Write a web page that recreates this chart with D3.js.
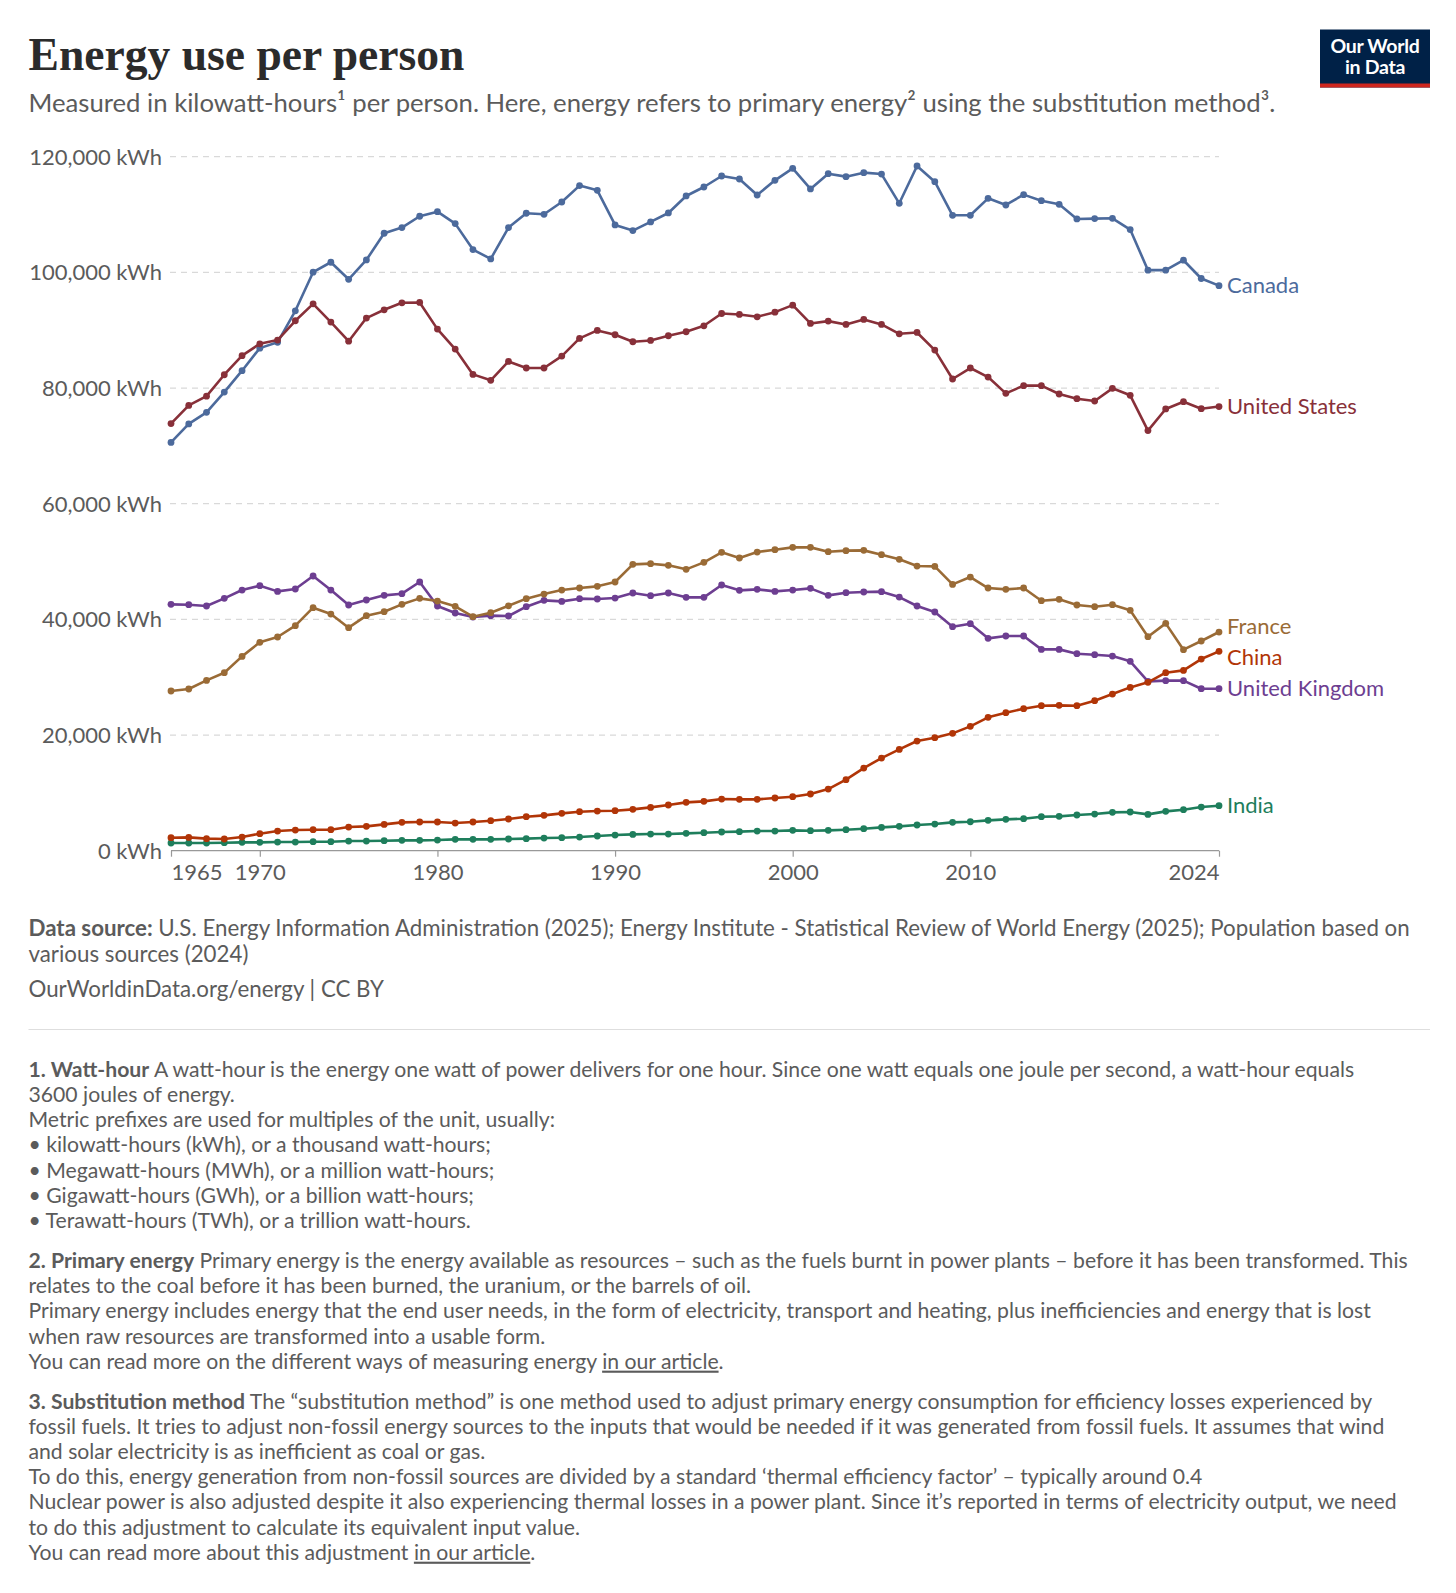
<!DOCTYPE html>
<html>
<head>
<meta charset="utf-8">
<script src="https://cdn.jsdelivr.net/npm/d3@7"></script>
<style>
  html, body { margin: 0; padding: 0; background: #fff; }
  svg { display: block; }
  text { font-family: Lato, "Noto Sans", sans-serif; }
</style>
</head>
<body>
<svg id="chart" width="1456" height="1593"></svg>
<script>
// ---------------- DATA ----------------
const years = [1965,1966,1967,1968,1969,1970,1971,1972,1973,1974,
  1975,1976,1977,1978,1979,1980,1981,1982,1983,1984,
  1985,1986,1987,1988,1989,1990,1991,1992,1993,1994,
  1995,1996,1997,1998,1999,2000,2001,2002,2003,2004,
  2005,2006,2007,2008,2009,2010,2011,2012,2013,2014,
  2015,2016,2017,2018,2019,2020,2021,2022,2023,2024];

const canada = [70600,73800,75800,79300,83000,86900,87900,93350,100030,101750,
  98800,102150,106760,107740,109700,110500,108430,103940,102330,107740,
  110220,110040,112170,115000,114190,108200,107220,108720,110270,113210,
  114760,116660,116140,113380,115910,117990,114420,117060,116550,117240,
  117000,111940,118390,115680,109870,109870,112800,111650,113440,112400,
  111770,109240,109300,109350,107400,100380,100380,102100,98940,97700];

const unitedStates = [73850,77000,78600,82300,85600,87650,88300,91630,94560,91400,
  88100,92100,93530,94740,94800,90190,86740,82360,81330,84600,
  83460,83460,85530,88580,89960,89210,88000,88230,89040,89730,
  90760,92890,92720,92320,93120,94330,91170,91570,91000,91860,
  91000,89380,89610,86560,81560,83460,81900,79080,80410,80410,
  78970,78160,77760,79950,78740,72640,76380,77640,76430,76800];

const france = [27610,27960,29450,30780,33600,36030,36950,38910,42020,40920,
  38560,40640,41330,42600,43630,43170,42250,40460,41150,42340,
  43580,44380,45070,45420,45710,46460,49510,49630,49340,48650,
  49860,51590,50610,51640,52050,52450,52450,51700,51880,51930,
  51180,50380,49220,49160,46050,47320,45420,45190,45420,43230,
  43460,42480,42190,42540,41560,37000,39310,34760,36260,37810];

const unitedKingdom = [42600,42540,42310,43630,45070,45820,44840,45250,47500,45070,
  42480,43350,44150,44440,46460,42310,41100,40400,40640,40580,
  42190,43290,43110,43580,43520,43690,44560,44090,44560,43810,
  43810,45940,45020,45190,44840,45070,45360,44150,44610,44730,
  44790,43860,42310,41270,38730,39250,36720,37120,37120,34810,
  34810,34060,33890,33660,32740,29280,29400,29400,28010,28010];

const china = [2250,2300,2080,2020,2360,2940,3400,3570,3630,3630,
  4090,4210,4550,4900,4960,4960,4780,4960,5190,5480,
  5880,6110,6460,6740,6860,6920,7150,7490,7900,8360,
  8530,8930,8880,8880,9110,9340,9800,10660,12280,14290,
  16020,17520,18960,19540,20290,21500,23060,23860,24550,25070,
  25130,25070,25940,27090,28240,29110,30780,31180,33140,34470];

const india = [1330,1330,1330,1380,1440,1440,1500,1500,1560,1560,
  1670,1670,1730,1790,1790,1840,1960,1960,1960,2020,
  2080,2190,2250,2360,2540,2710,2820,2880,2880,3000,
  3110,3230,3290,3400,3400,3520,3460,3520,3630,3800,
  4030,4210,4440,4610,4900,5010,5250,5420,5530,5880,
  5940,6170,6340,6630,6690,6280,6800,7090,7550,7780];

const seriesNames = ["Canada","United Kingdom","India","China","France","United States"];
const seriesValues = [canada, unitedKingdom, india, china, france, unitedStates];
const seriesColors = ["#4C6A9C","#6D3E91","#1E7E5C","#B13507","#9A6B36","#883039"];

const yTicks = [0,20000,40000,60000,80000,100000,120000];
const xTicks = [1965,1970,1980,1990,2000,2010,2024];

const titleText = "Energy use per person";
const subtitleText = "Measured in kilowatt-hours\u00B9 per person. Here, energy refers to primary energy\u00B2 using the substitution method\u00B3.";
const sourceLines = [
  [["Data source: ","b"],["U.S. Energy Information Administration (2025); Energy Institute - Statistical Review of World Energy (2025); Population based on",""]],
  [["various sources (2024)",""]],
  [["OurWorldinData.org/energy | CC BY",""]]
];
const noteParagraphs = [
  [
    [["1. Watt-hour","b"],[" A watt-hour is the energy one watt of power delivers for one hour. Since one watt equals one joule per second, a watt-hour equals",""]],
    [["3600 joules of energy.",""]],
    [["Metric prefixes are used for multiples of the unit, usually:",""]],
    [["\u2022 kilowatt-hours (kWh), or a thousand watt-hours;",""]],
    [["\u2022 Megawatt-hours (MWh), or a million watt-hours;",""]],
    [["\u2022 Gigawatt-hours (GWh), or a billion watt-hours;",""]],
    [["\u2022 Terawatt-hours (TWh), or a trillion watt-hours.",""]]
  ],
  [
    [["2. Primary energy","b"],[" Primary energy is the energy available as resources \u2013 such as the fuels burnt in power plants \u2013 before it has been transformed. This",""]],
    [["relates to the coal before it has been burned, the uranium, or the barrels of oil.",""]],
    [["Primary energy includes energy that the end user needs, in the form of electricity, transport and heating, plus inefficiencies and energy that is lost",""]],
    [["when raw resources are transformed into a usable form.",""]],
    [["You can read more on the different ways of measuring energy ",""],["in our article","u"],[".",""]]
  ],
  [
    [["3. Substitution method","b"],[" The \u201Csubstitution method\u201D is one method used to adjust primary energy consumption for efficiency losses experienced by",""]],
    [["fossil fuels. It tries to adjust non-fossil energy sources to the inputs that would be needed if it was generated from fossil fuels. It assumes that wind",""]],
    [["and solar electricity is as inefficient as coal or gas.",""]],
    [["To do this, energy generation from non-fossil sources are divided by a standard \u2018thermal efficiency factor\u2019 \u2013 typically around 0.4",""]],
    [["Nuclear power is also adjusted despite it also experiencing thermal losses in a power plant. Since it\u2019s reported in terms of electricity output, we need",""]],
    [["to do this adjustment to calculate its equivalent input value.",""]],
    [["You can read more about this adjustment ",""],["in our article","u"],[".",""]]
  ]
];

// ---------------- LAYOUT ----------------
const svg = d3.select("#chart");
const textGray = "#5b5b5b";
const plotLeft = 170, plotRight = 1219, plotTop = 156.7, plotBottom = 850.7;

const x = d3.scaleLinear().domain([1965, 2024]).range([plotLeft + 1, plotRight]);
const y = d3.scaleLinear().domain([0, 120000]).range([plotBottom, plotTop]);

function fit(sel, target) {
  const len = sel.node().getComputedTextLength();
  const fs = parseFloat(sel.attr("font-size"));
  const nf = fs * target / len;
  sel.attr("font-size", nf.toFixed(2));
  return nf;
}

// Title
const title = svg.append("text")
  .attr("x", 28.5).attr("y", 69.5)
  .attr("font-size", 46)
  .attr("font-weight", "bold")
  .style("font-family", "'Liberation Serif', 'DejaVu Serif', serif")
  .attr("fill", "#2b2b2b")
  .text(titleText);
fit(title, 436);

// Subtitle
const sub = svg.append("text")
  .attr("x", 28.5).attr("y", 112)
  .attr("font-size", 22)
  .attr("fill", textGray)
  .text(subtitleText);
fit(sub, 1247);

// Logo
const logo = svg.append("g");
logo.append("rect").attr("x", 1320).attr("y", 29.5).attr("width", 110).attr("height", 58).attr("fill", "#002147");
logo.append("rect").attr("x", 1320).attr("y", 83.5).attr("width", 110).attr("height", 4).attr("fill", "#CE261E");
logo.append("text").attr("x", 1375).attr("y", 52.5).attr("text-anchor", "middle")
  .attr("font-size", 19.5).attr("font-weight", "bold").attr("fill", "#fff").attr("letter-spacing", -0.3).text("Our World");
logo.append("text").attr("x", 1375).attr("y", 73.5).attr("text-anchor", "middle")
  .attr("font-size", 19.5).attr("font-weight", "bold").attr("fill", "#fff").attr("letter-spacing", -0.3).text("in Data");

// Gridlines
svg.append("g").selectAll("line")
  .data(yTicks.filter(d => d > 0))
  .join("line")
  .attr("x1", plotLeft).attr("x2", plotRight)
  .attr("y1", d => y(d)).attr("y2", d => y(d))
  .attr("stroke", "#d9d9d9").attr("stroke-width", 1.2)
  .attr("stroke-dasharray", "6,5");

// Y axis
const yAxis = svg.append("g")
  .attr("transform", `translate(${plotLeft - 8},0)`)
  .call(d3.axisLeft(y).tickValues(yTicks).tickSize(0).tickPadding(0)
    .tickFormat(d => d3.format(",")(d) + " kWh"));
yAxis.select(".domain").remove();
yAxis.selectAll("text")
  .attr("font-size", 22).attr("fill", textGray)
  .style("font-family", "Lato, sans-serif").attr("dy", "0.34em");

// X axis
const xAxis = svg.append("g")
  .attr("transform", `translate(0,${plotBottom})`)
  .call(d3.axisBottom(x).tickValues(xTicks).tickSize(6).tickPadding(8)
    .tickFormat(d3.format("d")));
xAxis.select(".domain").attr("stroke", "#999").attr("stroke-width", 1.2)
  .attr("d", `M${x(1965)},0H${x(2024)}`);
xAxis.selectAll(".tick line").attr("stroke", "#999").attr("stroke-width", 1.2);
xAxis.selectAll("text")
  .attr("font-size", 22).attr("fill", textGray)
  .style("font-family", "Lato, sans-serif")
  .attr("text-anchor", d => d === 1965 ? "start" : (d === 2024 ? "end" : "middle"));

// Lines
const line = d3.line().x((d, i) => x(years[i])).y(d => y(d));
const lg = svg.append("g");
seriesValues.forEach((vals, k) => {
  const g = lg.append("g");
  g.append("path").datum(vals)
    .attr("d", line).attr("fill", "none")
    .attr("stroke", seriesColors[k]).attr("stroke-width", 2.6)
    .attr("stroke-linejoin", "round");
  g.selectAll("circle").data(vals).join("circle")
    .attr("cx", (d, i) => x(years[i])).attr("cy", d => y(d))
    .attr("r", 3.4).attr("fill", seriesColors[k]);
});

// End labels with collision avoidance
const labels = seriesNames.map((n, k) => ({ name: n, color: seriesColors[k], y: y(seriesValues[k][seriesValues[k].length - 1]) }));
labels.sort((a, b) => a.y - b.y);
const labelGap = 31;
for (let iter = 0; iter < 50; iter++) {
  for (let i = 1; i < labels.length; i++) {
    const d = labels[i].y - labels[i - 1].y;
    if (d < labelGap) {
      const s = (labelGap - d) / 2;
      labels[i - 1].y -= s; labels[i].y += s;
    }
  }
}
svg.append("g").selectAll("text").data(labels).join("text")
  .attr("x", plotRight + 8).attr("y", d => d.y).attr("dy", "0.35em")
  .attr("font-size", 22).attr("fill", d => d.color)
  .text(d => d.name);

// Source
function richLine(g, segs, xx, yy, fs, color) {
  const t = g.append("text").attr("x", xx).attr("y", yy).attr("font-size", fs).attr("fill", color);
  segs.forEach(([s, st]) => {
    const ts = t.append("tspan").text(s);
    if (st === "b") ts.attr("font-weight", "bold");
    if (st === "u") ts.attr("text-decoration", "underline");
  });
  return t;
}
const src = svg.append("g");
const srcBase = [935.5, 962, 996.5];
const firstSrc = richLine(src, sourceLines[0], 28.5, srcBase[0], 20.5, textGray);
const srcFs = fit(firstSrc, 1382);
for (let i = 1; i < sourceLines.length; i++) richLine(src, sourceLines[i], 28.5, srcBase[i], srcFs, textGray);

// Separator
svg.append("line").attr("x1", 28.5).attr("x2", 1430).attr("y1", 1029.5).attr("y2", 1029.5)
  .attr("stroke", "#dedede").attr("stroke-width", 1.2);

// Notes
const notes = svg.append("g");
const lineH = 25.15, paraGap = 15;
let yy = 1077;
const probe = richLine(notes, noteParagraphs[0][0], 28.5, -100, 19, textGray);
const noteFs = fit(probe, 1326);
probe.remove();
noteParagraphs.forEach((para) => {
  para.forEach(segs => {
    richLine(notes, segs, 28.5, yy, noteFs, textGray);
    yy += lineH;
  });
  yy += paraGap;
});
</script>
</body>
</html>
